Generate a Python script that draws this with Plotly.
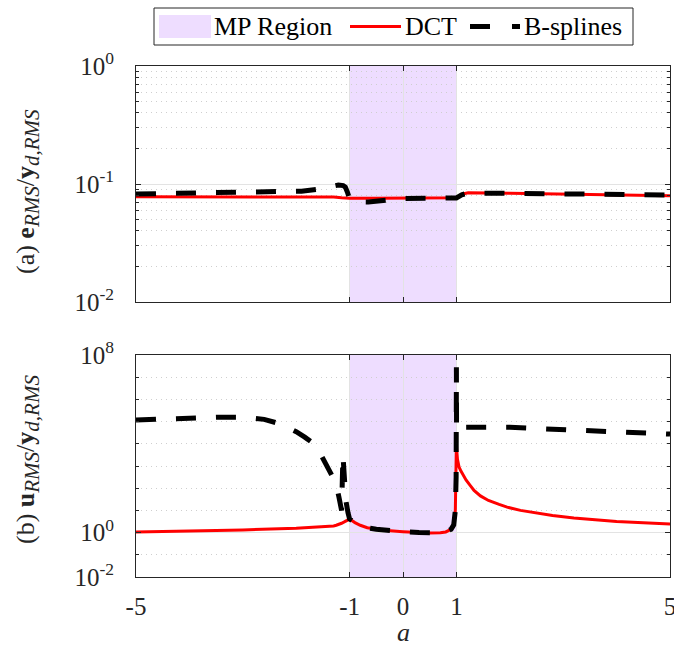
import plotly.graph_objects as go

# ---------------- data ----------------
# (a) top panel: e_RMS / y_d,RMS
a_top_dct = [-5, -3, -1.55, -1.3, -1.15, -1.0, -0.5, 0, 0.5, 0.98, 1.0, 1.1, 1.22, 2, 3, 4, 5]
top_dct = [0.078, 0.078, 0.078, 0.0775, 0.0765, 0.0758, 0.0756, 0.0756, 0.0756, 0.0756,
           0.0765, 0.082, 0.0844, 0.0835, 0.082, 0.081, 0.0796]

a_top_bs = [-5, -3.4, -1.9, -1.6, -1.35, -1.21, -1.12, -1.08, -1.04, -1.01, -1.0, -0.9, -0.65,
            -0.28, 0, 0.5, 0.95, 1.0, 1.1, 1.22, 2, 3, 4, 5]
top_bs = [0.0823, 0.0844, 0.087, 0.090, 0.095, 0.098, 0.097, 0.094, 0.085, 0.076, 0.0745,
          0.0705, 0.0703, 0.0733, 0.0755, 0.0756, 0.0756, 0.0762, 0.081, 0.0838, 0.0835,
          0.082, 0.081, 0.0805]

# (b) bottom panel: u_RMS / y_d,RMS
a_bot_dct = [-5, -4, -3, -2, -1.5, -1.4, -1.3, -1.25, -1.2, -1.15, -1.1, -1.05, -1.0, -0.9,
             -0.8, -0.67, -0.5, -0.3, 0, 0.3, 0.5, 0.7, 0.8, 0.9, 0.95, 0.98, 0.995, 1.0,
             1.005, 1.02, 1.05, 1.08, 1.12, 1.18, 1.25, 1.33, 1.45, 1.6, 1.8, 1.95, 2.2,
             2.5, 2.8, 3.2, 3.6, 4.0, 4.5, 5.0]
bot_dct = [1.07, 1.17, 1.32, 1.58, 1.82, 1.9, 2.0, 2.14, 2.29, 2.63, 3.02, 3.47, 4.07, 2.82,
           2.14, 1.66, 1.41, 1.23, 1.10, 1.0, 0.955, 0.977, 1.07, 1.41, 2.24, 10, 316, 1.0e4,
           5620, 2000, 890, 631, 398, 234, 141, 79, 45, 28, 18.6, 14, 10, 7.6, 5.9, 4.5,
           3.7, 3.2, 2.75, 2.45]

a_bot_bs = [-5, -4.2, -3.5, -3.0, -2.6, -2.3, -2.15, -2.0, -1.84, -1.68, -1.58, -1.49, -1.41,
            -1.33, -1.26, -1.2, -1.15, -1.125, -1.1, -1.07, -1.03, -1.0, -0.9, -0.8, -0.67,
            -0.5, -0.3, 0, 0.3, 0.5, 0.7, 0.8, 0.9, 0.95, 0.98, 0.995, 1.0, 1.003, 1.06,
            1.15, 2.0, 2.5, 3.3, 4.0, 5.0]
bot_bs = [1.17e5, 1.41e5, 1.58e5, 1.58e5, 1.26e5, 7.9e4, 5.6e4, 3.5e4, 2.0e4, 1.05e4, 5000,
          1862, 708, 355, 178, 40, 10, 3162, 158, 28, 7.9, 4.07, 2.82, 2.14, 1.66, 1.41,
          1.23, 1.10, 1.0, 0.955, 0.977, 1.07, 1.41, 2.24, 10, 316, 2.8e7, 3.5e4, 4.5e4,
          5.5e4, 5.5e4, 5.0e4, 4.2e4, 3.5e4, 2.75e4]

x_ticks = [-5, -1, 0, 1, 5]
x_ticktext = ["-5", "-1", "0", "1", "5"]
top_yticks = [0.01, 0.1, 1]
top_yticktext = ["10<sup>-2</sup>", "10<sup>-1</sup>", "10<sup>0</sup>"]
top_minor = [m * d for d in (0.01, 0.1) for m in range(2, 10)]
bot_yticks = [1e-2, 1, 1e8]
bot_yticktext = ["10<sup>-2</sup>", "10<sup>0</sup>", "10<sup>8</sup>"]
bot_minor = [10.0 ** k for k in range(-1, 8) if k != 0]
mp_region = [-1, 1]

# ---------------- styling ----------------
W, H = 674, 650
L, R, T, B = 136, 4, 66, 73
PW, PH = W - L - R, H - T - B
FONT = "Liberation Serif"
AX = "#262626"
RED = "#ff0000"
MPCOL = "rgba(204,153,255,0.33)"

def px(xp):
    return (xp - L) / PW

def py(yp):
    return (H - B - yp) / PH

fig = go.Figure()
for xs, ys, xa, ya in [(a_top_dct, top_dct, "x2", "y2"), (a_bot_dct, bot_dct, "x", "y")]:
    fig.add_trace(go.Scatter(x=xs, y=ys, xaxis=xa, yaxis=ya, mode="lines", name="DCT",
                             line=dict(color=RED, width=3), showlegend=False))
for xs, ys, xa, ya in [(a_top_bs, top_bs, "x2", "y2"), (a_bot_bs, bot_bs, "x", "y")]:
    fig.add_trace(go.Scatter(x=xs, y=ys, xaxis=xa, yaxis=ya, mode="lines", name="B-splines",
                             line=dict(color="black", width=5, dash="20px,20px"),
                             showlegend=False))

xcommon = dict(range=[-5, 5], tickmode="array", tickvals=x_ticks, ticktext=x_ticktext,
               ticks="inside", ticklen=5, tickcolor=AX, showline=True, linecolor=AX,
               linewidth=1, mirror="ticks", showgrid=True, gridcolor="#e3e3e3",
               zeroline=False, ticklabeloverflow="allow", automargin=False,
               tickfont=dict(family=FONT, size=25, color=AX))
ycommon = dict(type="log", tickmode="array", ticks="inside", ticklen=5, tickcolor=AX,
               showline=True, linecolor=AX, linewidth=1, mirror="ticks", showgrid=True,
               gridcolor="#e3e3e3", zeroline=False, ticklabelstandoff=16, automargin=False,
               tickfont=dict(family=FONT, size=25, color=AX))
minor_style = dict(ticks="inside", ticklen=3, tickcolor=AX, showgrid=True,
                   gridcolor="#cfcfcf", griddash="1px,4px")

top_dom = [(H - B - 302) / PH, 1]
bot_dom = [0, (H - B - 355) / PH]

fig.update_layout(
    width=W, height=H, margin=dict(l=L, r=R, t=T, b=B, autoexpand=False),
    paper_bgcolor="white", plot_bgcolor="white",
    font=dict(family=FONT, size=25, color=AX),
    xaxis=dict(anchor="y", ticklabelstandoff=7, **xcommon),
    xaxis2=dict(anchor="y2", matches="x", showticklabels=False, **xcommon),
    yaxis=dict(domain=bot_dom, anchor="x", range=[-2, 8], tickvals=bot_yticks,
               ticktext=bot_yticktext, minor=dict(tickvals=bot_minor, **minor_style),
               **ycommon),
    yaxis2=dict(domain=top_dom, anchor="x2", range=[-2, 0], tickvals=top_yticks,
                ticktext=top_yticktext, minor=dict(tickvals=top_minor, **minor_style),
                **ycommon),
    showlegend=False,
)

# MP region shading
for xr, yr in [("x", "y domain"), ("x2", "y2 domain")]:
    fig.add_shape(type="rect", xref=xr, yref=yr, x0=mp_region[0], x1=mp_region[1], y0=0, y1=1,
                  fillcolor=MPCOL, line=dict(width=0), layer="below")

# axis titles
SUB = '<sub><span style="font-size:21px"><i>{}</i></span></sub>'
title_a = "(a) <b>e</b>" + SUB.format("RMS") + "/<b>y</b>" + SUB.format("d,RMS")
title_b = "(b) <b>u</b>" + SUB.format("RMS") + "/<b>y</b>" + SUB.format("d,RMS")
fig.add_annotation(xref="paper", yref="paper", x=px(27), y=py(192), textangle=-90,
                   showarrow=False, xanchor="center", yanchor="middle", text=title_a,
                   font=dict(family=FONT, size=26, color=AX))
fig.add_annotation(xref="paper", yref="paper", x=px(27), y=py(460), textangle=-90,
                   showarrow=False, xanchor="center", yanchor="middle", text=title_b,
                   font=dict(family=FONT, size=26, color=AX))
fig.add_annotation(xref="paper", yref="paper", x=0.5, y=py(632), showarrow=False,
                   xanchor="center", yanchor="middle", text="<i>a</i>",
                   font=dict(family=FONT, size=26, color=AX))

# manual legend
ly = 26.5
fig.add_shape(type="rect", xref="paper", yref="paper", x0=px(154), x1=px(633), y0=py(45),
              y1=py(8), line=dict(color=AX, width=1), fillcolor="white")
fig.add_shape(type="rect", xref="paper", yref="paper", x0=px(159), x1=px(211), y0=py(38),
              y1=py(15), line=dict(width=0), fillcolor=MPCOL)
fig.add_shape(type="line", xref="paper", yref="paper", x0=px(350), x1=px(401), y0=py(ly),
              y1=py(ly), line=dict(color=RED, width=3))
for x0, x1 in [(470, 490), (512, 520)]:
    fig.add_shape(type="line", xref="paper", yref="paper", x0=px(x0), x1=px(x1), y0=py(ly),
                  y1=py(ly), line=dict(color="black", width=5))
for txt, xp in [("MP Region", 212), ("DCT", 403), ("B-splines", 522)]:
    fig.add_annotation(xref="paper", yref="paper", x=px(xp), y=py(ly), showarrow=False,
                       xanchor="left", yanchor="middle", text=txt,
                       font=dict(family=FONT, size=26, color="black"))

fig.write_html("out.html")
